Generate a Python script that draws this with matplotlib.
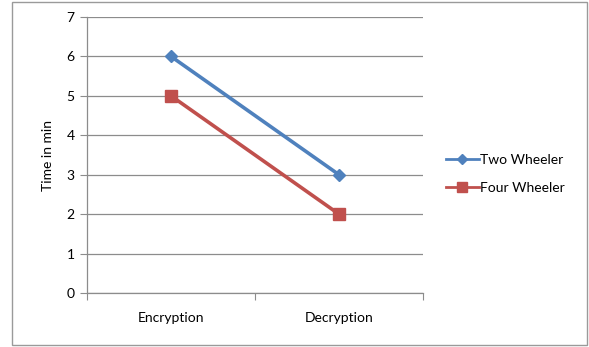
import matplotlib
matplotlib.use("Agg")
import matplotlib.pyplot as plt
from matplotlib.patches import Rectangle

categories = ["Encryption", "Decryption"]
two_wheeler = [6, 3]
four_wheeler = [5, 2]
y_ticks = [0, 1, 2, 3, 4, 5, 6, 7]

plt.rcParams['font.family'] = ['Lato', 'DejaVu Sans']
FS = 10

W, H = 589, 347
fig = plt.figure(figsize=(W / 100, H / 100), dpi=100)

# outer chart border
fig.patches.append(Rectangle((12 / W, 2 / H), 575 / W, 343 / H, transform=fig.transFigure,
                             fill=False, edgecolor="#9a9a9a", linewidth=1.0))

ax = fig.add_axes([87 / W, 1 - 293 / H, 336 / W, 276 / H])
x = [0.5, 1.5]
ax.plot(x, two_wheeler, color="#4F81BD", linewidth=2.6, marker="D", markersize=6,
        label="Two Wheeler")
ax.plot(x, four_wheeler, color="#C0504D", linewidth=2.6, marker="s", markersize=8,
        label="Four Wheeler")

ax.set_xlim(0, 2)
ax.set_ylim(0, 7)
ax.set_yticks(y_ticks)
ax.set_yticklabels([str(v) for v in y_ticks], fontsize=FS)
ax.set_xticks([0, 1, 2])
ax.set_xticklabels([])
ax.set_xticks(x, minor=True)
ax.set_xticklabels(categories, minor=True, fontsize=FS)
ax.tick_params(axis="x", which="minor", length=0, pad=14)
ax.tick_params(axis="x", which="major", length=5, color="#8c8c8c", direction="out")
ax.tick_params(axis="y", length=5, color="#8c8c8c", pad=4)

ax.grid(axis="y", color="#8c8c8c", linewidth=0.9)
ax.set_axisbelow(True)
for s in ["top", "right"]:
    ax.spines[s].set_visible(False)
for s in ["left", "bottom"]:
    ax.spines[s].set_color("#8c8c8c")
    ax.spines[s].set_linewidth(0.9)

ax.set_ylabel("Time in min", fontsize=FS, labelpad=9)

leg = fig.legend(loc="center left", bbox_to_anchor=(433 / W, 1 - 174 / H), frameon=False,
                 fontsize=FS, handlelength=2.4, handletextpad=0.1, labelspacing=1.2)
for h in leg.legend_handles:
    h.set_linewidth(2.0)
    h.set_markersize(h.get_markersize() * 0.9)

fig.savefig("out.png", dpi=100)
